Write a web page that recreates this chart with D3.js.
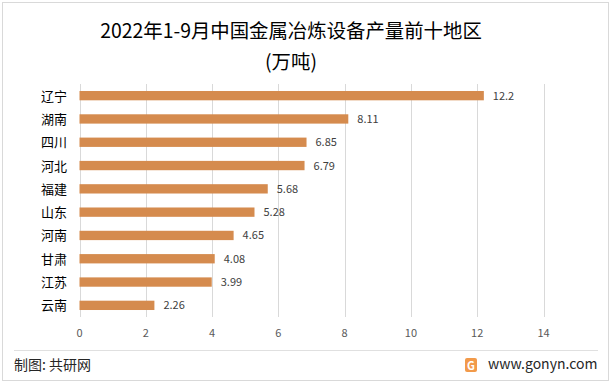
<!DOCTYPE html>
<html>
<head>
<meta charset="utf-8">
<script src="https://cdn.jsdelivr.net/npm/d3@7"></script>
<style>
  body { margin: 0; background: #fff; }
  text { font-family: "Microsoft YaHei", "Noto Sans CJK SC", sans-serif; }
</style>
</head>
<body>
<div id="chart"></div>
<script>
const width = 611;
const height = 383;

// 数据
const regions = ["辽宁", "湖南", "四川", "河北", "福建", "山东", "河南", "甘肃", "江苏", "云南"];
const values = [12.2, 8.11, 6.85, 6.79, 5.68, 5.28, 4.65, 4.08, 3.99, 2.26];
const xTicks = [0, 2, 4, 6, 8, 10, 12, 14];

const svg = d3.select("#chart")
  .append("svg")
  .attr("width", width)
  .attr("height", height);

// 外框
svg.append("rect")
  .attr("x", 2.5).attr("y", 2.5)
  .attr("width", width - 5).attr("height", height - 5)
  .attr("fill", "#fff")
  .attr("stroke", "#d9d9d9");

// 标题
svg.append("text")
  .attr("x", 291).attr("y", 38)
  .attr("text-anchor", "middle")
  .attr("font-size", 19.4)
  .attr("fill", "#000")
  .text("2022年1-9月中国金属冶炼设备产量前十地区");

svg.append("text")
  .attr("x", 291).attr("y", 69)
  .attr("text-anchor", "middle")
  .attr("font-size", 19.4)
  .attr("fill", "#000")
  .text("(万吨)");

const x = d3.scaleLinear().domain([0, 14]).range([79.5, 543.5]);
const y = d3.scaleBand().domain(regions).range([84, 317]).paddingInner(0.6).paddingOuter(0.3);

// 网格线
svg.append("g")
  .selectAll("line")
  .data(xTicks)
  .join("line")
  .attr("x1", d => Math.round(x(d)) + 0.5)
  .attr("x2", d => Math.round(x(d)) + 0.5)
  .attr("y1", 84).attr("y2", 317)
  .attr("stroke", "#d9d9d9");

// x轴标签
svg.append("g")
  .selectAll("text")
  .data(xTicks)
  .join("text")
  .attr("x", d => x(d))
  .attr("y", 337)
  .attr("text-anchor", "middle")
  .attr("font-size", 11)
  .attr("fill", "#595959")
  .text(d => d);

// 条形
svg.append("g")
  .selectAll("rect")
  .data(values)
  .join("rect")
  .attr("x", x(0))
  .attr("y", (d, i) => y(regions[i]))
  .attr("width", d => x(d) - x(0))
  .attr("height", y.bandwidth())
  .attr("fill", "#d58b4e");

// 数值标签
svg.append("g")
  .selectAll("text")
  .data(values)
  .join("text")
  .attr("x", d => x(d) + 9)
  .attr("y", (d, i) => y(regions[i]) + y.bandwidth() / 2 + 4)
  .attr("font-size", 11)
  .attr("fill", "#404040")
  .text(d => d);

// 类别标签
svg.append("g")
  .selectAll("text")
  .data(regions)
  .join("text")
  .attr("x", 67)
  .attr("y", d => y(d) + y.bandwidth() / 2 + 5)
  .attr("text-anchor", "end")
  .attr("font-size", 13)
  .attr("fill", "#000")
  .text(d => d);

// 底部分隔线
svg.append("line")
  .attr("x1", 14).attr("x2", 598)
  .attr("y1", 350.5).attr("y2", 350.5)
  .attr("stroke", "#e0e0e0");

svg.append("text")
  .attr("x", 14).attr("y", 370)
  .attr("font-size", 14)
  .attr("fill", "#262626")
  .text("制图: 共研网");

// 标志
svg.append("rect")
  .attr("x", 465).attr("y", 358)
  .attr("width", 12).attr("height", 14)
  .attr("rx", 2)
  .attr("fill", "#f29a4a");
svg.append("text")
  .attr("x", 471).attr("y", 369.5)
  .attr("text-anchor", "middle")
  .attr("font-size", 11)
  .attr("font-weight", "bold")
  .attr("fill", "#fff")
  .text("G");

svg.append("text")
  .attr("x", 488).attr("y", 369)
  .attr("font-size", 14)
  .attr("fill", "#262626")
  .text("www.gonyn.com");
</script>
</body>
</html>
